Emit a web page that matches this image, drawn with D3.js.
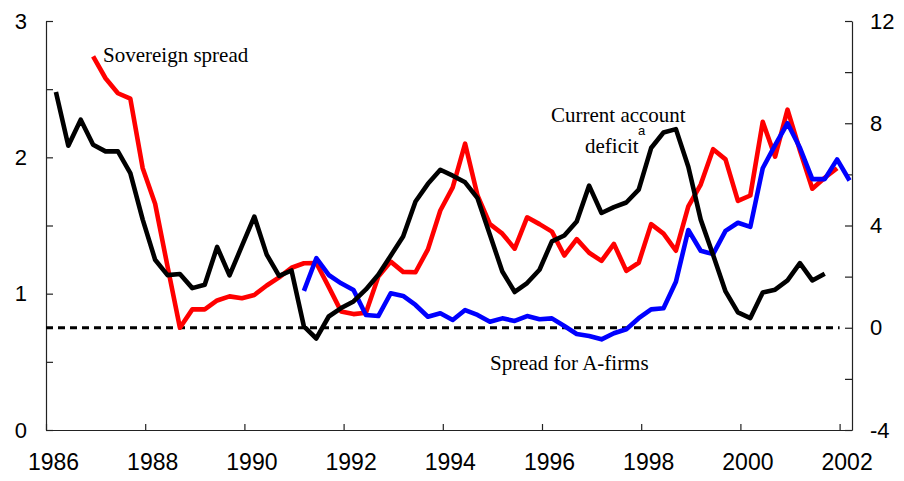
<!DOCTYPE html>
<html>
<head>
<meta charset="utf-8">
<script src="https://cdn.jsdelivr.net/npm/d3@7"></script>
<style>
  body { margin: 0; background: #fff; }
  .axis path, .axis line { stroke: #222; stroke-width: 1.2; }
  .axis text { font-family: "Liberation Sans", Arial, sans-serif; fill: #000; }
  .note { font-family: "Liberation Serif", "Times New Roman", serif; font-size: 21px; fill: #000; }
</style>
</head>
<body>
<div id="chart"></div>
<script>
// quarterly observations, first one is 1986Q1
var startYear = 1986;

// current account deficit (right axis), from 1986Q1
var currentAccount = [9.22, 7.12, 8.14, 7.16, 6.90, 6.90, 6.05, 4.23, 2.66, 2.06,
    2.10, 1.55, 1.68, 3.16, 2.05, 3.2, 4.35, 2.86, 2.03, 2.24,
    0.05, -0.42, 0.44, 0.77, 1.03, 1.5, 2.07, 2.82, 3.57, 4.94,
    5.63, 6.18, 5.95, 5.69, 5.07, 3.64, 2.20, 1.40, 1.75, 2.27,
    3.38, 3.61, 4.16, 5.56, 4.49, 4.72, 4.90, 5.40, 7.03, 7.64,
    7.77, 6.3, 4.23, 2.85, 1.42, 0.60, 0.38, 1.38, 1.49, 1.85,
    2.53, 1.85, 2.11];
var currentAccountStart = 0;

// sovereign spread (left axis), from 1986Q4
var sovereign = [2.74, 2.58, 2.47, 2.43, 1.92, 1.66, 1.20, 0.75, 0.885, 0.885,
    0.95, 0.98, 0.966, 0.99, 1.06, 1.12, 1.19, 1.223, 1.225, 1.05,
    0.87, 0.85, 0.86, 1.125, 1.235, 1.16, 1.157, 1.325, 1.61, 1.78,
    2.10, 1.72, 1.51, 1.44, 1.33, 1.56, 1.51, 1.455, 1.28, 1.40,
    1.30, 1.24, 1.365, 1.167, 1.227, 1.51, 1.44, 1.315, 1.64, 1.80,
    2.06, 1.985, 1.68, 1.72, 2.26, 2.005, 2.35, 2.05, 1.77, 1.85, 1.92];
var sovereignStart = 3;

// spread for A-firms (left axis), from 1991Q1
var aFirms = [1.02, 1.26, 1.137, 1.076, 1.027, 0.844, 0.836, 1.003, 0.983, 0.917,
    0.831, 0.856, 0.807, 0.88, 0.844, 0.794, 0.819, 0.80, 0.836, 0.812,
    0.819, 0.763, 0.704, 0.69, 0.665, 0.71, 0.739, 0.82, 0.885, 0.893,
    1.088, 1.467, 1.315, 1.29, 1.46, 1.52, 1.49, 1.92, 2.09, 2.25,
    2.07, 1.84, 1.84, 1.985, 1.83];
var aFirmsStart = 20;

var yearTicks = [1986, 1988, 1990, 1992, 1994, 1996, 1998, 2000, 2002];
var leftTicks = [0, 0.5, 1, 1.5, 2, 2.5, 3];
var rightTicks = [-4, -2, 0, 2, 4, 6, 8, 10, 12];
var rightLabels = [-4, 0, 4, 8, 12];

var width = 904,
    height = 481,
    margin = {top: 21, right: 52, bottom: 51, left: 46},
    innerWidth = width - margin.left - margin.right,
    innerHeight = height - margin.top - margin.bottom;

var svg = d3.select("#chart").append("svg")
    .attr("width", width)
    .attr("height", height);

var g = svg.append("g")
    .attr("transform", "translate(" + margin.left + "," + margin.top + ")");

var x = d3.scaleLinear().domain([1986, 2002.25]).range([0, innerWidth]),
    yL = d3.scaleLinear().domain([0, 3]).range([innerHeight, 0]),
    yR = d3.scaleLinear().domain([-4, 12]).range([innerHeight, 0]);

// position of quarter i (counted from startYear Q1)
function qtime(i) { return startYear + 0.2 + i * 0.25; }

function toPoints(values, start) {
    return values.map(function(v, i) { return {t: qtime(start + i), v: v}; });
}

// axes
g.append("g")
    .attr("class", "axis")
    .attr("transform", "translate(0," + innerHeight + ")")
    .call(d3.axisBottom(x).tickValues(yearTicks).tickSize(-6).tickSizeOuter(0)
        .tickPadding(24).tickFormat(function(d) { return String(d); }))
    .selectAll("text")
    .attr("font-size", 23)
    .attr("dx", 7);

g.append("g")
    .attr("class", "axis")
    .call(d3.axisLeft(yL).tickValues(leftTicks).tickSize(-7).tickSizeOuter(0)
        .tickPadding(19)
        .tickFormat(function(d) { return d % 1 === 0 ? String(d) : ""; }))
    .selectAll("text")
    .attr("font-size", 22);

g.append("g")
    .attr("class", "axis")
    .attr("transform", "translate(" + innerWidth + ",0)")
    .call(d3.axisRight(yR).tickValues(rightTicks).tickSize(-7).tickSizeOuter(0)
        .tickPadding(18)
        .tickFormat(function(d) { return rightLabels.indexOf(d) >= 0 ? String(d) : ""; }))
    .selectAll("text")
    .attr("font-size", 22);

// unlabelled minor ticks keep no text
g.selectAll(".axis text").filter(function() { return this.textContent === ""; }).remove();

// zero line of the current account
g.append("line")
    .attr("x1", x(1986))
    .attr("x2", x(2002))
    .attr("y1", yR(0))
    .attr("y2", yR(0))
    .attr("stroke", "#000")
    .attr("stroke-width", 3)
    .attr("stroke-dasharray", "7,5");

var lineL = d3.line()
    .x(function(d) { return x(d.t); })
    .y(function(d) { return yL(d.v); });

var lineR = d3.line()
    .x(function(d) { return x(d.t); })
    .y(function(d) { return yR(d.v); });

g.append("path")
    .datum(toPoints(sovereign, sovereignStart))
    .attr("fill", "none")
    .attr("stroke", "#ff0000")
    .attr("stroke-width", 4.6)
    .attr("stroke-linejoin", "round")
    .attr("d", lineL);

g.append("path")
    .datum(toPoints(aFirms, aFirmsStart))
    .attr("fill", "none")
    .attr("stroke", "#0000ff")
    .attr("stroke-width", 4.6)
    .attr("stroke-linejoin", "round")
    .attr("d", lineL);

g.append("path")
    .datum(toPoints(currentAccount, currentAccountStart))
    .attr("fill", "none")
    .attr("stroke", "#000")
    .attr("stroke-width", 4.6)
    .attr("stroke-linejoin", "round")
    .attr("d", lineR);

// series labels
svg.append("text")
    .attr("class", "note")
    .attr("x", 103)
    .attr("y", 62)
    .text("Sovereign spread");

svg.append("text")
    .attr("class", "note")
    .attr("x", 551)
    .attr("y", 122)
    .text("Current account");

svg.append("text")
    .attr("class", "note")
    .attr("x", 585)
    .attr("y", 153)
    .text("deficit");

svg.append("text")
    .attr("x", 638)
    .attr("y", 135)
    .style("font-family", "'Liberation Sans', Arial, sans-serif")
    .style("font-size", "13px")
    .text("a");

svg.append("text")
    .attr("class", "note")
    .attr("x", 490)
    .attr("y", 370)
    .text("Spread for A-firms");
</script>
</body>
</html>
